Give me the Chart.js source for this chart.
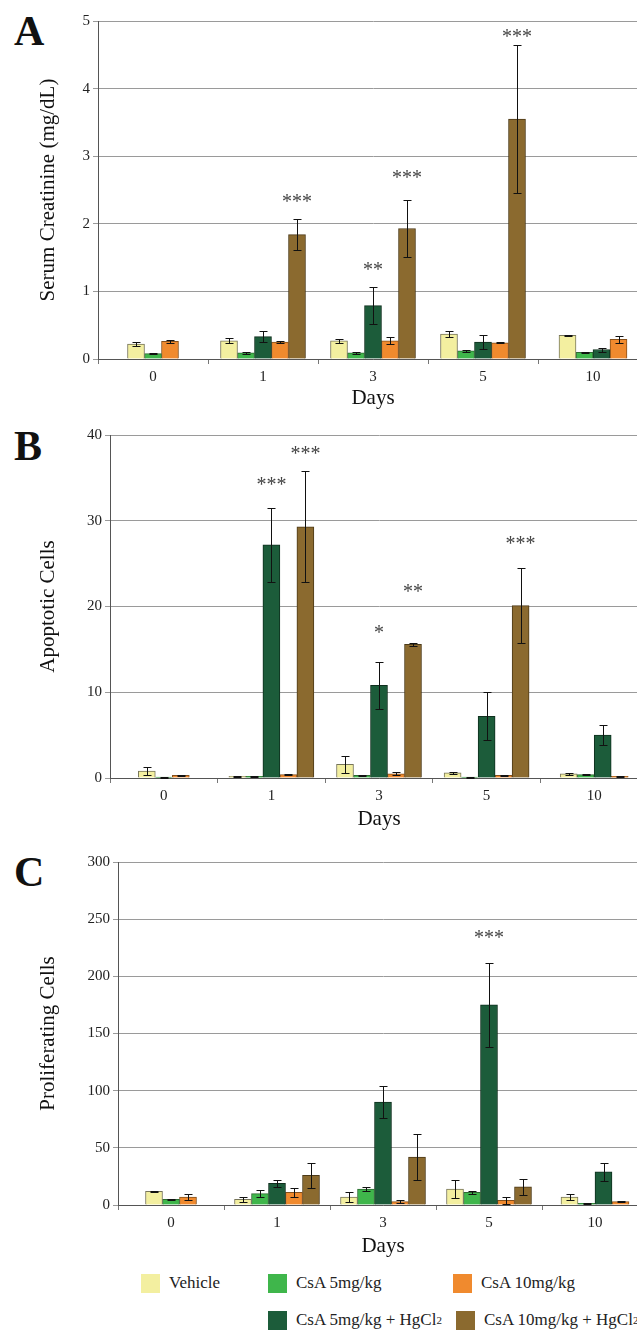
<!DOCTYPE html>
<html lang="en">
<head>
<meta charset="UTF-8">
<title>Serum creatinine, apoptotic and proliferating cells</title>
<script src="https://cdn.jsdelivr.net/npm/chart.js"></script>
<style>
  body { margin: 0; background: #fff; overflow: hidden; }
  #page { position: relative; width: 637px; height: 1335px; overflow: hidden; font-family: "Liberation Serif", serif; color: #222; }
  canvas { position: absolute; left: 0; }
  .letter { position: absolute; left: 14px; font: bold 42px/1 "Liberation Serif", serif; color: #111; }
  .item { position: absolute; height: 20px; display: flex; align-items: center; font-size: 17px; white-space: nowrap; }
  .item i { display: inline-block; width: 19px; height: 19px; margin-right: 9px; }
  .item sub { font-size: 11px; vertical-align: -3px; }
</style>
</head>
<body>
<div id="page">
  <div class="letter" style="top:10px">A</div>
  <div class="letter" style="top:425px">B</div>
  <div class="letter" style="top:851px">C</div>
  <canvas id="chartA" width="650" height="415" style="top:0px"></canvas>
  <canvas id="chartB" width="650" height="416" style="top:420px"></canvas>
  <canvas id="chartC" width="650" height="418" style="top:845px"></canvas>
  <div id="legend"></div>
</div>
<script>
// categories and series
const days = ['0', '1', '3', '5', '10'];
const seriesNames = ['Vehicle', 'CsA 5mg/kg', 'CsA 5mg/kg + HgCl₂', 'CsA 10mg/kg', 'CsA 10mg/kg + HgCl₂'];
const seriesColors = ['#f3efa0', '#3fb64b', '#1c5c3a', '#f08a2e', '#8b6a2f'];
const seriesBorders = ['#77755a', '#2e6a33', '#0f2f1e', '#85501c', '#4c3a18'];

// A: serum creatinine (mg/dL), rows follow seriesNames, columns follow days
const creatinineMean = [
  [0.22, 0.27, 0.27, 0.37, 0.35],
  [0.08, 0.09, 0.09, 0.12, 0.10],
  [null, 0.33, 0.79, 0.25, 0.14],
  [0.26, 0.25, 0.27, 0.24, 0.29],
  [null, 1.84, 1.93, 3.55, null]
];
const creatinineErr = [
  [0.03, 0.04, 0.03, 0.04, 0.01],
  [0.01, 0.01, 0.01, 0.01, 0.01],
  [null, 0.08, 0.27, 0.10, 0.03],
  [0.02, 0.02, 0.05, 0.01, 0.05],
  [null, 0.23, 0.42, 1.10, null]
];
// [day index, series index, label, level on the value axis]
const creatinineStars = [[1, 4, '***', 2.39], [2, 2, '**', 1.39], [2, 4, '***', 2.75], [3, 4, '***', 4.83]];

// B: apoptotic cells
const apoptoticMean = [
  [0.8, 0.2, 1.6, 0.6, 0.5],
  [0.1, 0.2, 0.3, 0.1, 0.4],
  [null, 27.2, 10.8, 7.2, 5.0],
  [0.3, 0.4, 0.5, 0.3, 0.2],
  [null, 29.3, 15.6, 20.1, null]
];
const apoptoticErr = [
  [0.5, 0.05, 1.0, 0.1, 0.1],
  [0.05, 0.05, 0.1, 0.05, 0.05],
  [null, 4.3, 2.7, 2.8, 1.2],
  [0.1, 0.1, 0.2, 0.05, 0.05],
  [null, 6.5, 0.2, 4.4, null]
];
const apoptoticStars = [[1, 2, '***', 34.7], [1, 4, '***', 38.4], [2, 2, '*', 17.5], [2, 4, '**', 22.3], [3, 4, '***', 27.9]];

// C: proliferating cells
const proliferatingMean = [
  [12, 5, 7, 14, 7],
  [5, 10, 14, 11, 1.5],
  [null, 19, 90, 175, 29],
  [7, 11, 3, 4, 3],
  [null, 26, 42, 16, null]
];
const proliferatingErr = [
  [0.5, 2, 4, 8, 3],
  [0.5, 3, 1.5, 1.5, 0.3],
  [null, 3, 14, 37, 8],
  [3, 4, 1.5, 3, 0.5],
  [null, 11, 20, 7, null]
];
const proliferatingStars = [[3, 2, '***', 238]];

const serif = 'Liberation Serif, serif';

const errorBars = {
  id: 'errorBars',
  afterDatasetsDraw(chart) {
    const ctx = chart.ctx, y = chart.scales.y;
    ctx.save();
    ctx.strokeStyle = '#111';
    ctx.lineWidth = 1;
    chart.data.datasets.forEach((ds, di) => {
      chart.getDatasetMeta(di).data.forEach((bar, i) => {
        const v = ds.data[i], e = ds.errors[i];
        if (v == null || e == null) return;
        const x = Math.round(bar.x) + 0.5;
        const top = Math.round(y.getPixelForValue(v + e)) + 0.5;
        const bot = Math.round(y.getPixelForValue(Math.max(0, v - e))) + 0.5;
        ctx.beginPath();
        ctx.moveTo(x, bot); ctx.lineTo(x, top);
        ctx.moveTo(x - 4, top); ctx.lineTo(x + 4, top);
        ctx.moveTo(x - 4, bot); ctx.lineTo(x + 4, bot);
        ctx.stroke();
      });
    });
    ctx.restore();
  }
};

function starMarks(marks) {
  return {
    id: 'starMarks',
    afterDatasetsDraw(chart) {
      const ctx = chart.ctx, y = chart.scales.y;
      ctx.save();
      ctx.fillStyle = '#444';
      ctx.font = '20px ' + serif;
      ctx.textAlign = 'center';
      ctx.textBaseline = 'alphabetic';
      marks.forEach(([d, s, text, level]) => {
        const bar = chart.getDatasetMeta(s).data[d];
        ctx.fillText(text, bar.x, y.getPixelForValue(level) + 11);
      });
      ctx.restore();
    }
  };
}

function makeChart(id, means, errs, marks, opt) {
  const datasets = seriesNames.map((name, s) => ({
    label: name,
    data: means[s],
    errors: errs[s],
    backgroundColor: seriesColors[s],
    borderColor: seriesBorders[s],
    borderWidth: 1,
    barThickness: 17,
    skipNull: true
  }));
  return new Chart(document.getElementById(id), {
    type: 'bar',
    data: { labels: days, datasets },
    options: {
      responsive: false,
      animation: false,
      layout: { padding: { left: 32, right: 2, top: opt.padTop, bottom: 0 } },
      plugins: { legend: { display: false }, tooltip: { enabled: false } },
      scales: {
        x: {
          grid: { drawOnChartArea: false, tickLength: 5, color: '#777' },
          border: { color: '#555' },
          ticks: { font: { family: serif, size: 15 }, color: '#222', padding: 4 },
          title: { display: true, text: 'Days', font: { family: serif, size: 21 }, color: '#111', padding: { top: 0, bottom: 4 } },
          afterFit: s => { s.height = opt.xHeight; }
        },
        y: {
          min: 0, max: opt.max,
          ticks: { stepSize: opt.step, font: { family: serif, size: 15 }, color: '#222', padding: 3 },
          grid: { color: '#9a9a9a', tickLength: 5 },
          border: { color: '#555' },
          title: { display: true, text: opt.title, font: { family: serif, size: 21 }, color: '#111' },
          afterFit: s => { s.width = opt.axisX - 32; }
        }
      }
    },
    plugins: [errorBars, starMarks(marks)]
  });
}

makeChart('chartA', creatinineMean, creatinineErr, creatinineStars,
  { title: 'Serum Creatinine (mg/dL)', max: 5, step: 1, padTop: 21, xHeight: 56, axisX: 98 });
makeChart('chartB', apoptoticMean, apoptoticErr, apoptoticStars,
  { title: 'Apoptotic Cells', max: 40, step: 10, padTop: 15, xHeight: 58, axisX: 110 });
makeChart('chartC', proliferatingMean, proliferatingErr, proliferatingStars,
  { title: 'Proliferating Cells', max: 300, step: 50, padTop: 17, xHeight: 58, axisX: 118 });

// legend, two rows
const legendSlots = [[141, 1273], [268, 1273], [268, 1310], [453, 1273], [456, 1310]];
const legend = document.getElementById('legend');
seriesNames.forEach((name, s) => {
  const el = document.createElement('div');
  el.className = 'item';
  el.style.left = legendSlots[s][0] + 'px';
  el.style.top = legendSlots[s][1] + 'px';
  el.innerHTML = '<i style="background:' + seriesColors[s] + '"></i>' + name.replace('₂', '<sub>2</sub>');
  legend.appendChild(el);
});
</script>
</body>
</html>
